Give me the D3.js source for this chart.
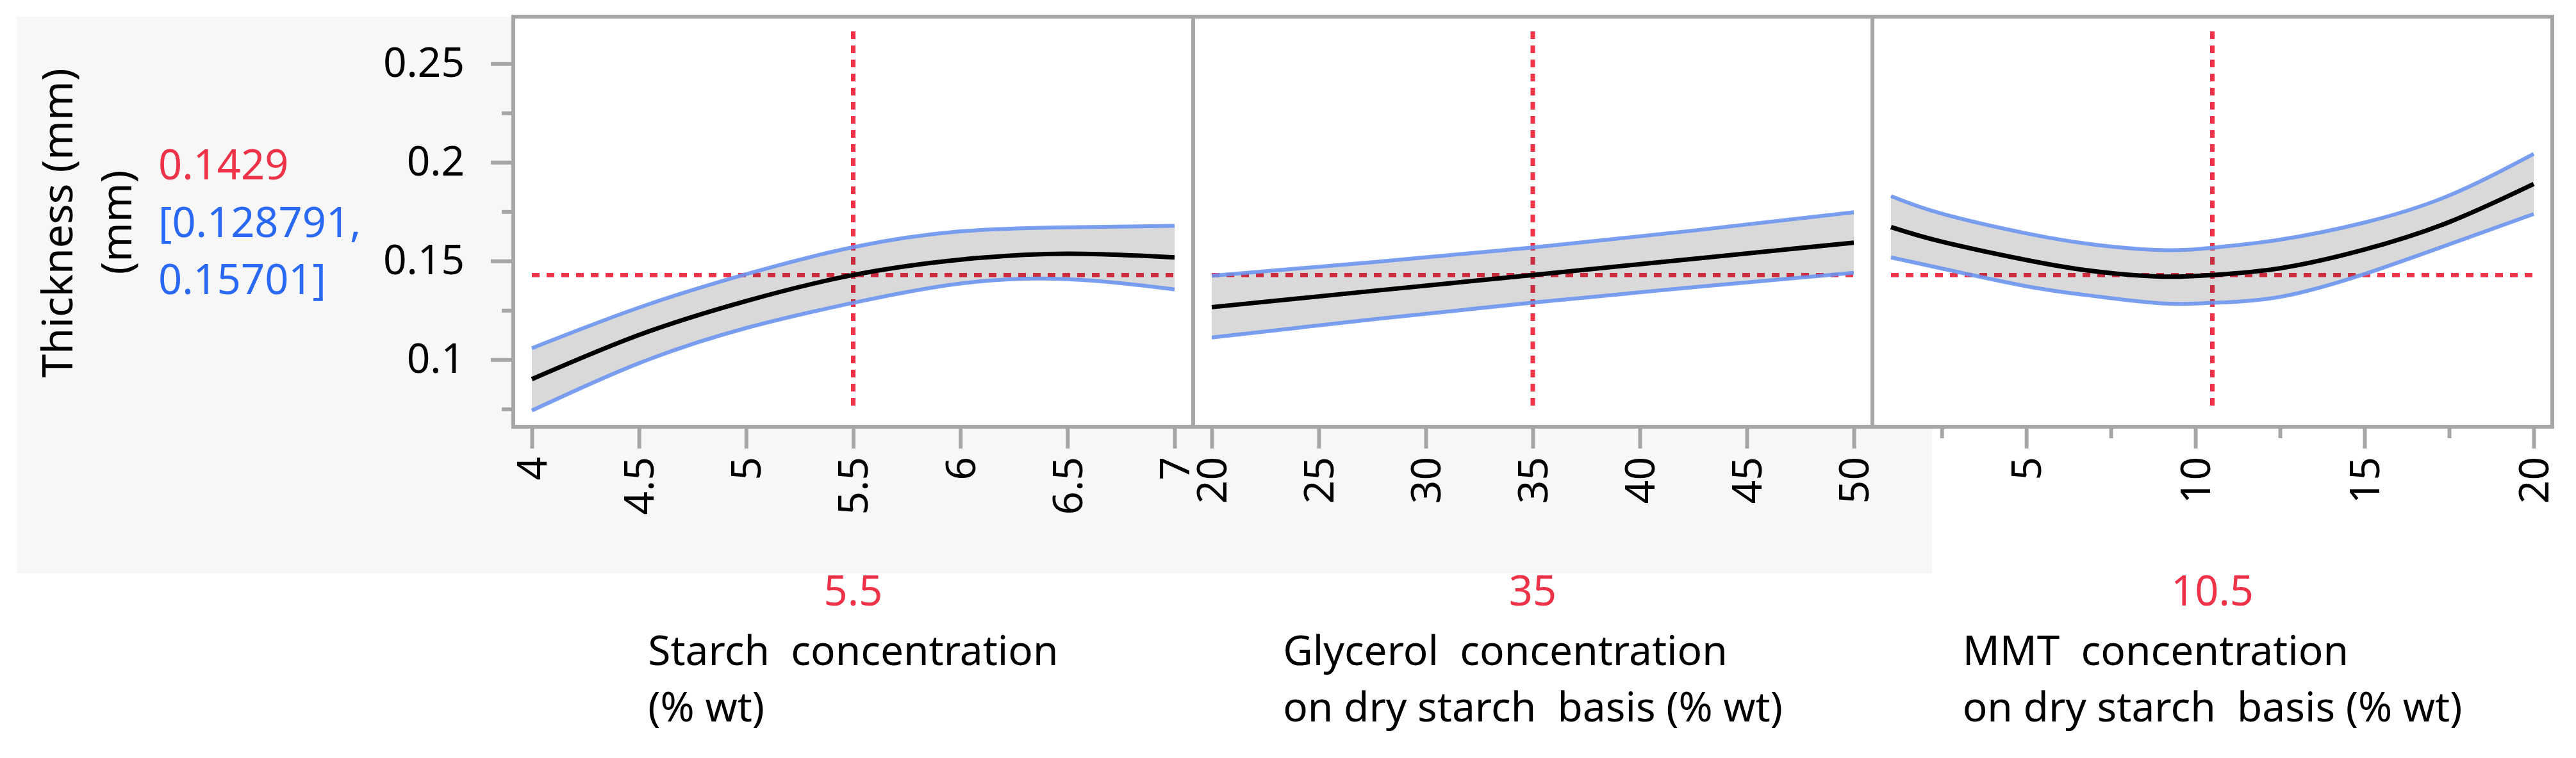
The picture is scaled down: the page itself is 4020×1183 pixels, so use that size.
<!DOCTYPE html>
<html>
<head>
<meta charset="utf-8">
<script src="https://cdnjs.cloudflare.com/ajax/libs/d3/7.8.5/d3.min.js"></script>
<style>
  body { margin: 0; background: #fff; }
  svg { display: block; font-family: "Noto Sans", "Open Sans", sans-serif; }
</style>
</head>
<body>
<div id="chart"></div>
<script>
// Prediction profiler values

const yMajor = [0.1, 0.15, 0.2, 0.25];
const yMinor = [0.075, 0.125, 0.175, 0.225];
const predicted = 0.1429;
const ciText = ["[0.128791,", "0.15701]"];
const yTitle = ["Thickness (mm)", "(mm)"];

// Starch concentration
const starchX = [4, 4.5, 5, 5.5, 6, 6.5, 7];
const starchMean = [0.0901, 0.1125, 0.1297, 0.1429, 0.1507, 0.1537, 0.1518];
const starchUpper = [0.1058, 0.1264, 0.1433, 0.1570, 0.1650, 0.1671, 0.1678];
const starchLower = [0.0742, 0.0982, 0.1160, 0.1288, 0.1386, 0.1408, 0.1356];
const starchTicks = [4, 4.5, 5, 5.5, 6, 6.5, 7];

// Glycerol concentration
const glycerolX = [20, 27.5, 35, 42.5, 50];
const glycerolMean = [0.1266, 0.1348, 0.1429, 0.1511, 0.1593];
const glycerolUpper = [0.1425, 0.1494, 0.1568, 0.1654, 0.1747];
const glycerolLower = [0.1112, 0.1204, 0.1289, 0.1367, 0.1440];
const glycerolTicks = [20, 25, 30, 35, 40, 45, 50];

// MMT concentration
const mmtX = [1, 2.5, 5, 7, 9, 10.5, 12.5, 15, 17.5, 20];
const mmtMean = [0.1672, 0.1598, 0.1505, 0.1448, 0.1421, 0.1429, 0.1463, 0.1558, 0.1697, 0.1890];
const mmtUpper = [0.1829, 0.1740, 0.1640, 0.1583, 0.1555, 0.1567, 0.1608, 0.1695, 0.1832, 0.2043];
const mmtLower = [0.1518, 0.1462, 0.1372, 0.1322, 0.1285, 0.1288, 0.1318, 0.1434, 0.1584, 0.1738];
const mmtTicks = [5, 10, 15, 20];
const mmtMinor = [2.5, 7.5, 12.5, 17.5];

const factorNames = [
  ["Starch  concentration", "(% wt)"],
  ["Glycerol  concentration", "on dry starch  basis (% wt)"],
  ["MMT  concentration", "on dry starch  basis (% wt)"]
];
const factorCurrent = [5.5, 35, 10.5];

// Layout

const W = 4020, H = 1183;
const frameTop = 26, frameBottom = 666;
const panelEdges = [801, 1862, 2922, 3983];
const pad = 29;
const gridColor = "#a6a6a6";
const red = "#ee3349";
const blue = "#2a69f5";

const svg = d3.select("#chart")
  .append("svg")
    .attr("width", W)
    .attr("height", H);

// gray profiler background
svg.append("rect")
  .attr("x", 26).attr("y", 26)
  .attr("width", 2989).attr("height", 869)
  .attr("fill", "#f7f7f7");

svg.append("rect")
  .attr("x", panelEdges[0]).attr("y", frameTop)
  .attr("width", panelEdges[3] - panelEdges[0])
  .attr("height", frameBottom - frameTop)
  .attr("fill", "#fff");

// y scale shared by all panels
const y = d3.scaleLinear()
  .domain([0.075, 0.25])
  .range([638.3, 99.3]);

const panels = [
  { x: starchX, mean: starchMean, upper: starchUpper, lower: starchLower, ticks: starchTicks, minor: [] },
  { x: glycerolX, mean: glycerolMean, upper: glycerolUpper, lower: glycerolLower, ticks: glycerolTicks, minor: [] },
  { x: mmtX, mean: mmtMean, upper: mmtUpper, lower: mmtLower, ticks: mmtTicks, minor: mmtMinor }
];

panels.forEach((p, i) => {
  const left = panelEdges[i], right = panelEdges[i + 1];
  const x = d3.scaleLinear()
    .domain(d3.extent(p.x))
    .range([left + pad, right - pad]);
  const rows = p.x.map((v, k) => ({ x: v, m: p.mean[k], u: p.upper[k], l: p.lower[k] }));
  const g = svg.append("g");

  // reference lines
  g.append("line")
    .attr("x1", x(factorCurrent[i])).attr("x2", x(factorCurrent[i]))
    .attr("y1", frameTop + 23).attr("y2", frameBottom - 23)
    .attr("stroke", red).attr("stroke-width", 7)
    .attr("stroke-dasharray", "12,10");

  g.append("line")
    .attr("x1", x(p.x[0])).attr("x2", x(p.x[p.x.length - 1]))
    .attr("y1", y(predicted)).attr("y2", y(predicted))
    .attr("stroke", red).attr("stroke-width", 6.5)
    .attr("stroke-dasharray", "12,11");

  // confidence band
  const area = d3.area()
    .x(d => x(d.x))
    .y0(d => y(d.l))
    .y1(d => y(d.u))
    .curve(d3.curveNatural);

  g.append("path")
    .datum(rows)
    .attr("d", area)
    .attr("fill", "#d9d9d9")
    .style("mix-blend-mode", "multiply");

  const lineOf = key => d3.line()
    .x(d => x(d.x))
    .y(d => y(d[key]))
    .curve(d3.curveNatural);

  ["u", "l"].forEach(k => {
    g.append("path")
      .datum(rows)
      .attr("d", lineOf(k))
      .attr("fill", "none")
      .attr("stroke", "#6d95ee")
      .attr("stroke-opacity", 0.9)
      .attr("stroke-width", 6);
  });

  g.append("path")
    .datum(rows)
    .attr("d", lineOf("m"))
    .attr("fill", "none")
    .attr("stroke", "#000")
    .attr("stroke-width", 7);

  // x axis
  const ax = svg.append("g")
    .attr("transform", `translate(0,${frameBottom})`)
    .call(d3.axisBottom(x).tickValues(p.ticks).tickSize(34).tickFormat(d3.format("")));
  ax.select(".domain").remove();
  ax.selectAll("line").attr("stroke", gridColor).attr("stroke-width", 6);
  ax.selectAll("text")
    .attr("transform", "rotate(-90)")
    .attr("x", -47).attr("y", 0).attr("dy", "0.35em")
    .attr("text-anchor", "end")
    .attr("fill", "#000")
    .style("font-family", "Noto Sans")
    .style("font-size", "64px");

  if (p.minor.length) {
    const mx = svg.append("g")
      .attr("transform", `translate(0,${frameBottom})`)
      .call(d3.axisBottom(x).tickValues(p.minor).tickSize(18).tickFormat(""));
    mx.select(".domain").remove();
    mx.selectAll("line").attr("stroke", gridColor).attr("stroke-width", 6);
  }

  // current factor value and factor name
  const cx = (left + right) / 2;
  svg.append("text")
    .attr("x", cx).attr("y", 945)
    .attr("text-anchor", "middle")
    .attr("fill", red)
    .style("font-size", "65px")
    .text(factorCurrent[i]);

  const names = svg.append("g");
  const t = names.selectAll("text")
    .data(factorNames[i])
    .join("text")
      .attr("y", (d, k) => 1038 + k * 88)
      .style("font-size", "64px")
      .style("white-space", "pre")
      .attr("fill", "#000")
      .text(d => d);
  const maxW = d3.max(t.nodes(), n => n.getComputedTextLength());
  t.attr("x", cx - maxW / 2);
});

// y axis
const ay = svg.append("g")
  .attr("transform", `translate(${panelEdges[0]},0)`)
  .call(d3.axisLeft(y).tickValues(yMajor).tickSize(35).tickPadding(41).tickFormat(d3.format("")));
ay.select(".domain").remove();
ay.selectAll("line").attr("stroke", gridColor).attr("stroke-width", 6);
ay.selectAll("text")
  .attr("fill", "#000")
  .style("font-family", "Noto Sans")
  .style("font-size", "64px");

const ayMinor = svg.append("g")
  .attr("transform", `translate(${panelEdges[0]},0)`)
  .call(d3.axisLeft(y).tickValues(yMinor).tickSize(18).tickFormat(""));
ayMinor.select(".domain").remove();
ayMinor.selectAll("line").attr("stroke", gridColor).attr("stroke-width", 6);

// frame and panel dividers
svg.append("rect")
  .attr("x", panelEdges[0]).attr("y", frameTop)
  .attr("width", panelEdges[3] - panelEdges[0])
  .attr("height", frameBottom - frameTop)
  .attr("fill", "none")
  .attr("stroke", gridColor)
  .attr("stroke-width", 6);

svg.selectAll(".divider")
  .data(panelEdges.slice(1, 3))
  .join("line")
    .attr("x1", d => d).attr("x2", d => d)
    .attr("y1", frameTop).attr("y2", frameBottom)
    .attr("stroke", gridColor)
    .attr("stroke-width", 6);

// response title and readout
svg.append("text")
  .attr("transform", "translate(113,348) rotate(-90)")
  .attr("text-anchor", "middle")
  .style("font-size", "66px")
  .text(yTitle[0]);

svg.append("text")
  .attr("transform", "translate(205,347) rotate(-90)")
  .attr("text-anchor", "middle")
  .style("font-size", "66px")
  .text(yTitle[1]);

svg.append("text")
  .attr("x", 247).attr("y", 280)
  .attr("fill", red)
  .style("font-size", "65px")
  .text(predicted);

svg.selectAll(".ci")
  .data(ciText)
  .join("text")
    .attr("x", 247)
    .attr("y", (d, k) => 370 + k * 89)
    .attr("fill", blue)
    .style("font-size", "65px")
    .text(d => d);
</script>
</body>
</html>
